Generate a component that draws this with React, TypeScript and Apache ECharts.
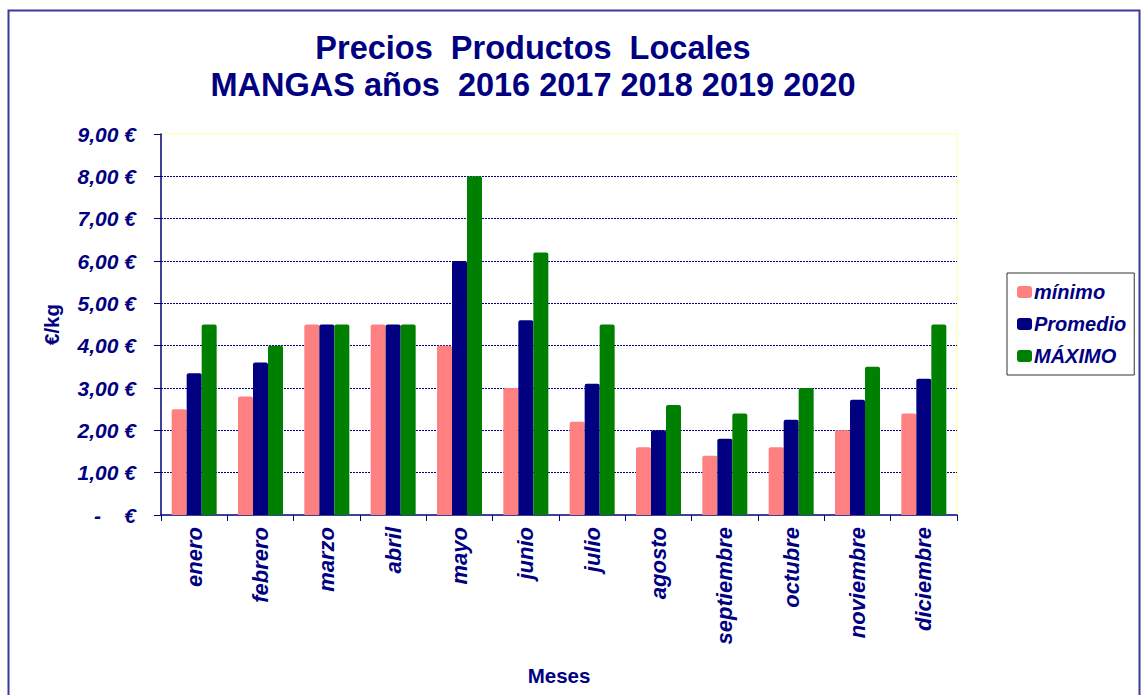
import React, { useEffect, useRef } from "react";
import * as echarts from "echarts";

const months = ["enero", "febrero", "marzo", "abril", "mayo", "junio", "julio", "agosto", "septiembre", "octubre", "noviembre", "diciembre"];
const minimo = [2.5, 2.8, 4.5, 4.5, 4.0, 3.0, 2.2, 1.6, 1.4, 1.6, 2.0, 2.4];
const promedio = [3.35, 3.6, 4.5, 4.5, 6.0, 4.6, 3.1, 2.0, 1.8, 2.25, 2.72, 3.22];
const maximo = [4.5, 4.0, 4.5, 4.5, 8.0, 6.2, 4.5, 2.6, 2.4, 3.0, 3.5, 4.5];
const seriesNames = ["mínimo", "Promedio", "MÁXIMO"];
const colors = ["#FF8080", "#000080", "#008000"];

const NAVY = "#000080";
const FONT = "'Liberation Sans', Arial, sans-serif";

export default function App() {
  const ref = useRef<HTMLDivElement>(null);
  useEffect(() => {
    const chart = echarts.init(ref.current!, null, { renderer: "svg" });
    const data = [minimo, promedio, maximo];
    chart.setOption({
      animation: false,
      backgroundColor: "#ffffff",
      textStyle: { fontFamily: FONT },
      title: {
        text: "Precios  Productos  Locales\nMANGAS años  2016 2017 2018 2019 2020",
        left: 528,
        top: 24,
        textAlign: "center",
        textStyle: { color: NAVY, fontSize: 32.5, fontWeight: "bold", fontFamily: FONT, lineHeight: 37 },
      },
      graphic: [
        {
          type: "rect",
          shape: { x: 8.5, y: 10.5, width: 1131, height: 700 },
          style: { fill: "none", stroke: "#3a3a9a", lineWidth: 2 },
          z: 100,
        },
      ],
      legend: {
        orient: "vertical",
        left: 1007,
        top: 273,
        itemWidth: 15,
        itemHeight: 12,
        itemGap: 12,
        padding: [9, 8, 9, 10],
        borderColor: "#333",
        borderWidth: 1,
        icon: "roundRect",
        textStyle: { color: NAVY, fontSize: 20, fontWeight: "bold", fontStyle: "italic", fontFamily: FONT, padding: [0, 0, 0, -3] },
        data: seriesNames,
      },
      grid: {
        left: 161,
        top: 134,
        right: 187,
        bottom: 180,
        show: true,
        borderColor: "#ffffd0",
        borderWidth: 2,
        backgroundColor: "transparent",
      },
      xAxis: {
        type: "category",
        data: months,
        name: "Meses",
        nameLocation: "middle",
        nameGap: 150,
        nameTextStyle: { color: NAVY, fontSize: 20.5, fontWeight: "bold", fontFamily: FONT },
        axisLine: { lineStyle: { color: NAVY, width: 1.5 } },
        axisTick: { show: true, length: 6, lineStyle: { color: NAVY } },
        axisLabel: {
          rotate: 90,
          margin: 12,
          color: NAVY,
          fontSize: 22,
          fontWeight: "bold",
          fontStyle: "italic",
          fontFamily: FONT,
        },
      },
      yAxis: {
        type: "value",
        min: 0,
        max: 9,
        interval: 1,
        name: "€/kg",
        nameLocation: "middle",
        nameGap: 99,
        nameRotate: 90,
        nameTextStyle: { color: NAVY, fontSize: 20.5, fontWeight: "bold", fontFamily: FONT },
        axisLine: { show: true, lineStyle: { color: NAVY, width: 1.5 } },
        axisTick: { show: true, length: 7, lineStyle: { color: NAVY } },
        axisLabel: {
          margin: 25,
          color: NAVY,
          fontSize: 21,
          fontWeight: "bold",
          fontStyle: "italic",
          fontFamily: FONT,
          formatter: (v: number) => (v === 0 ? "-\u00a0\u00a0\u00a0\u00a0€" : v.toFixed(2).replace(".", ",") + " €"),
        },
        splitLine: {
          show: true,
          showMaxLine: false,
          showMinLine: false,
          lineStyle: { color: NAVY, type: [2, 1], width: 1 },
        },
      },
      series: seriesNames.map((name, i) => ({
        name,
        type: "bar",
        data: data[i],
        barWidth: 15,
        barGap: "0%",
        itemStyle: { color: colors[i], borderRadius: [2, 2, 0, 0] },
      })),
    });
    return () => chart.dispose();
  }, []);
  return <div ref={ref} style={{ position: "absolute", left: 0, top: 0, width: 1144, height: 695 }} />;
}
